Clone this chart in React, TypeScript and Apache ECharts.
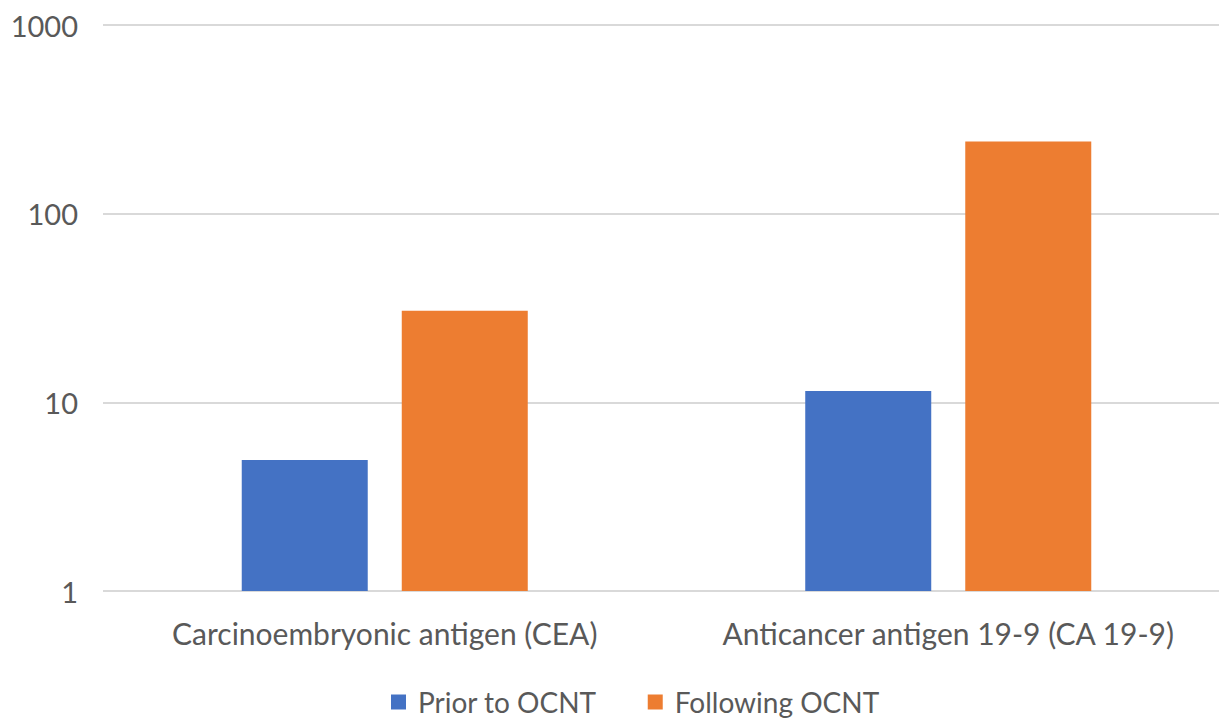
import React, { useEffect, useRef } from "react";
import * as echarts from "echarts";

const categories = ["Carcinoembryonic antigen (CEA)", "Anticancer antigen 19-9 (CA 19-9)"];
const priorValues = [4.95, 11.5];
const followingValues = [30.6, 241];
const seriesNames = ["Prior to OCNT", "Following OCNT"];

export default function App() {
  const ref = useRef<HTMLDivElement>(null);
  useEffect(() => {
    if (!ref.current) return;
    const chart = echarts.init(ref.current, null, { renderer: "svg" });
    const font = "Lato, 'Open Sans', sans-serif";
    chart.setOption({
      animation: false,
      textStyle: { fontFamily: font },
      grid: { left: 103, width: 1127, top: 25, bottom: 128, containLabel: false, outerBoundsMode: "none" },
      legend: {
        top: 688,
        left: 391,
        padding: 0,
        itemWidth: 15,
        itemHeight: 15,
        itemGap: 51,
        icon: "rect",
        textStyle: { fontSize: 28, color: "#595959", fontFamily: font, padding: [0, 0, 0, 7] },
        data: seriesNames,
      },
      xAxis: {
        type: "category",
        data: categories,
        axisLine: { show: false },
        axisTick: { show: false },
        axisLabel: { fontSize: 30, color: "#595959", margin: 27, fontFamily: font, interval: 0 },
      },
      yAxis: {
        type: "log",
        logBase: 10,
        min: 1,
        max: 1000,
        axisLine: { show: false },
        axisTick: { show: false },
        axisLabel: {
          fontSize: 29,
          color: "#595959",
          margin: 25,
          fontFamily: font,
          formatter: (v: number) => String(Math.round(v)),
        },
        splitLine: { show: true, lineStyle: { color: "#d9d9d9", width: 2 } },
      },
      series: [
        {
          name: seriesNames[0],
          type: "bar",
          data: priorValues,
          barWidth: 126,
          barGap: "27%",
          itemStyle: { color: "#4472C4" },
        },
        {
          name: seriesNames[1],
          type: "bar",
          data: followingValues,
          barWidth: 126,
          itemStyle: { color: "#ED7D31" },
        },
      ],
    });
    return () => chart.dispose();
  }, []);
  return (
    <div
      ref={ref}
      style={{ position: "fixed", left: 0, top: 0, width: 1219, height: 719, background: "#fff" }}
    />
  );
}
